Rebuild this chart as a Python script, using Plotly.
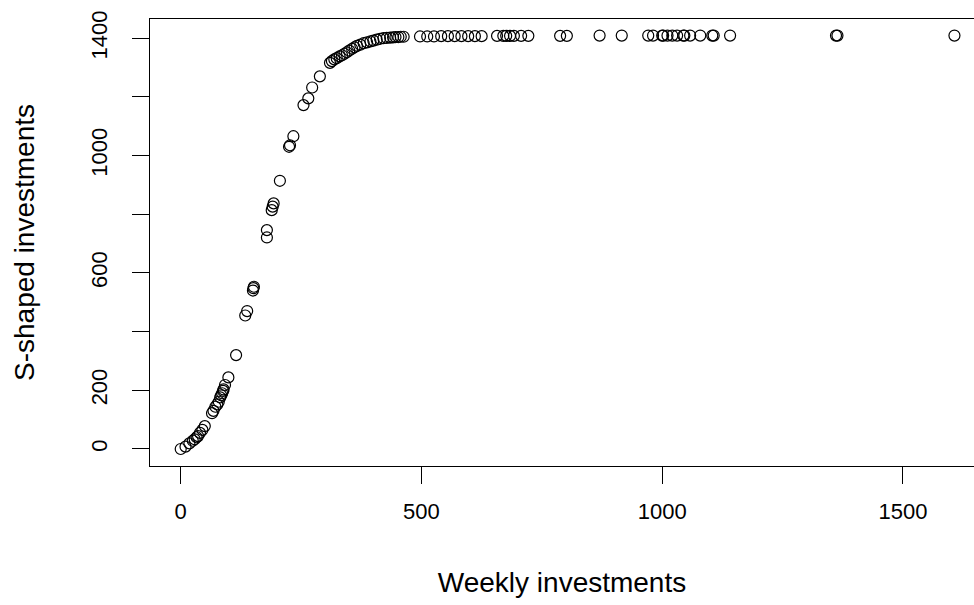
import plotly.graph_objects as go

# Weekly investment amounts and their S-shaped (saturating) transformation
weekly = [
    0, 10, 18, 25, 29, 33, 36, 40, 45, 50,
    65, 68, 72, 76, 79, 82, 84, 86, 88, 89, 92, 99,
    115, 134, 138, 150, 151, 152, 179, 179, 189, 191, 193, 206,
    225, 227, 234, 255, 265, 273, 289,
    310, 314, 319, 324, 330, 335, 340, 345, 350, 356, 361, 366, 373,
    380, 387, 394, 400, 407, 414, 421, 428, 435, 441, 446, 452, 457, 463,
    497, 512, 526, 541, 555, 569, 583, 597, 611, 625,
    657, 670, 676, 684, 692, 707, 722, 788, 802, 870, 916,
    971, 981, 1000, 1002, 1011, 1021, 1031, 1044, 1046, 1058, 1079,
    1104, 1107, 1141, 1361, 1364, 1607,
]
s_shaped = [
    0, 8, 19, 28, 33, 40, 44, 55, 65, 78,
    122, 130, 144, 152, 161, 176, 183, 190, 198, 203, 218, 244,
    320, 455, 470, 540, 548, 553, 721, 746, 814, 826, 837, 914,
    1030, 1035, 1066, 1172, 1195, 1232, 1270,
    1316, 1322, 1328, 1332, 1338, 1342, 1347, 1352, 1358, 1364, 1369, 1374, 1378,
    1383, 1386, 1389, 1392, 1395, 1398, 1400, 1401, 1402, 1403, 1404, 1404, 1405, 1405,
    1406, 1406, 1406, 1407, 1407, 1407, 1407, 1407, 1407, 1407,
    1408, 1408, 1408, 1408, 1408, 1408, 1408, 1408, 1408, 1409, 1409,
    1409, 1409, 1409, 1409, 1409, 1409, 1409, 1409, 1409, 1409, 1409,
    1409, 1409, 1409, 1409, 1409, 1409,
]

x_ticks = [0, 500, 1000, 1500]
y_ticks = [0, 200, 400, 600, 800, 1000, 1200, 1400]
y_tick_text = ["0", "200", "", "600", "", "1000", "", "1400"]

FONT = "Liberation Sans, Arial, sans-serif"

fig = go.Figure(
    go.Scatter(
        x=weekly,
        y=s_shaped,
        mode="markers",
        marker=dict(symbol="circle-open", size=11, color="black",
                    line=dict(width=1.2, color="black")),
        hoverinfo="x+y",
    )
)

fig.update_layout(
    width=974,
    height=605,
    margin=dict(l=150, r=0, t=19, b=139),
    paper_bgcolor="white",
    plot_bgcolor="white",
    showlegend=False,
    font=dict(family=FONT, size=22, color="black"),
)

fig.update_xaxes(
    range=[-63.8, 1647.6],
    tickvals=x_ticks,
    ticktext=[str(v) for v in x_ticks],
    ticks="outside",
    ticklen=17,
    tickwidth=1,
    tickcolor="black",
    ticklabelstandoff=9,
    showline=True,
    linecolor="black",
    linewidth=1,
    mirror=True,
    showgrid=False,
    zeroline=False,
    automargin=False,
    tickfont=dict(size=22),
    title=dict(text="Weekly investments", font=dict(size=28), standoff=48),
)

fig.update_yaxes(
    range=[-58, 1465.5],
    tickvals=y_ticks,
    ticktext=y_tick_text,
    tickangle=-90,
    ticks="outside",
    ticklen=17,
    tickwidth=1,
    tickcolor="black",
    ticklabelstandoff=16,
    showline=True,
    linecolor="black",
    linewidth=1,
    mirror=False,
    showgrid=False,
    zeroline=False,
    automargin=False,
    tickfont=dict(size=22),
    title=dict(text="S-shaped investments", font=dict(size=28), standoff=44),
)

fig.write_html("out.html")
